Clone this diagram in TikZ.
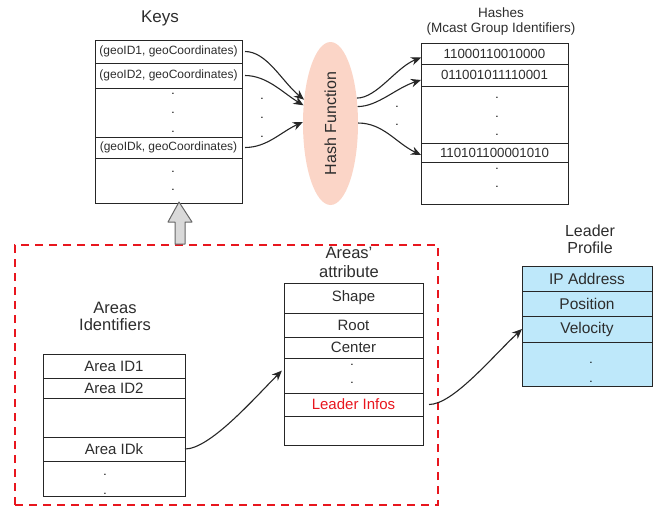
\documentclass[tikz,border=0pt]{standalone}
\usepackage{fontspec}
\setmainfont{Liberation Sans}
\usetikzlibrary{arrows.meta,shapes.geometric}
\definecolor{peach}{RGB}{251,213,199}
\definecolor{lblue}{RGB}{190,232,250}
\definecolor{dred}{RGB}{232,22,30}
\definecolor{txt}{RGB}{45,45,45}
\tikzset{
  row/.style={draw=black!85, line width=1pt, minimum width=#1, anchor=north west, inner sep=0pt, outer sep=0pt, text=txt},
  fa/.style={font=\fontsize{12}{14}\selectfont},
  fb/.style={font=\fontsize{13.3}{15}\selectfont},
  fc/.style={font=\fontsize{15}{17}\selectfont},
  fd/.style={font=\fontsize{15.5}{17}\selectfont},
  ttl/.style={align=center, text=txt, inner sep=0pt},
  dotn/.style={inner sep=0pt, font=\fontsize{12}{14}\selectfont},
  arr/.style={draw=black!85, line width=1.1pt, -{Stealth[length=10pt,width=8.5pt]}},
}
\begin{document}
\begin{tikzpicture}[x=1pt,y=-1pt]
\useasboundingbox (0,0) rectangle (653,507);
% Keys
\node[ttl, font=\fontsize{17}{19}\selectfont] (keyst) at (160,18) {Keys};
\node[row=147, minimum height=23, fa] (k1) at (95,40) {(geoID1, geoCoordinates)};
\node[row=147, minimum height=25, fa] (k2) at (95,63) {(geoID2, geoCoordinates)};
\node[row=147, minimum height=49] (kd) at (95,88) {};
\node[row=147, minimum height=21, fa] (kk) at (95,137) {(geoIDk, geoCoordinates)};
\node[row=147, minimum height=45] (ke) at (95,158) {};
\foreach \y in {94,113,132,172,190} \node[dotn] at (173,\y) {.};
\foreach \y in {99,118,137} \node[dotn] at (262,\y) {.};
% Hash function
\node[ellipse, fill=peach, minimum width=55, minimum height=163, inner sep=0pt] (hash) at (330.5,123.5) {};
\node[rotate=90, text=txt, font=\fontsize{16}{18}\selectfont] (hasht) at (hash.center) {Hash Function};
% Hashes
\node[ttl, font=\fontsize{13.5}{15}\selectfont] (hasht2) at (501,22) {Hashes\\(Mcast Group Identifiers)};
\node[row=147, minimum height=21, fb] (h1) at (421,43) {11000110010000};
\node[row=147, minimum height=22, fb] (h2) at (421,64) {011001011110001};
\node[row=147, minimum height=57] (hd) at (421,86) {};
\node[row=147, minimum height=19, fb] (hk) at (421,143) {110101100001010};
\node[row=147, minimum height=42] (he) at (421,162) {};
\foreach \y in {98,117,135,169,187} \node[dotn] at (497,\y) {.};
\foreach \y in {107,125} \node[dotn] at (397,\y) {.};
% arrows keys -> hash
\draw[arr] ([xshift=3pt]k1.east) .. controls +(22,0) and +(-22,-18) .. (hash.138);
\draw[arr] ([xshift=3pt]k2.east) .. controls +(22,0) and +(-20,-12) .. (hash.146);
\draw[arr] ([xshift=3pt]kk.east) .. controls +(22,0) and +(-22,10) .. (hash.177);
% arrows hash -> hashes
\draw[arr] (hash.44) .. controls +(20,0) and +(-25,10) .. ([yshift=-4pt]h1.west);
\draw[arr] (hash.32) .. controls +(20,0) and +(-25,8) .. ([yshift=-5pt]h2.west);
\draw[arr] (hash.1) .. controls +(25,0) and +(-25,-12) .. ([yshift=-2.5pt]hk.west);
% dashed region
\node[draw=dred, line width=2.5pt, dash pattern=on 8pt off 6pt, minimum width=423, minimum height=260, inner sep=0pt] (region) at (226.5,375) {};
% gray hollow arrow
\draw[draw=black!60, fill=black!15, line width=1pt, line join=round]
  (179,202) -- (192,222) -- (185,222) -- (185,244) -- (175,244) -- (175,222) -- (168,222) -- cycle;
% Areas identifiers
\node[ttl, font=\fontsize{16.5}{17}\selectfont] (areast) at (115,316.5) {Areas\\Identifiers};
\node[row=142, minimum height=24, fc] (a1) at (43,354) {Area ID1};
\node[row=142, minimum height=20, fc] (a2) at (43,378) {Area ID2};
\node[row=142, minimum height=39] (ad) at (43,398) {};
\node[row=142, minimum height=24, fc] (ak) at (43,437) {Area IDk};
\node[row=142, minimum height=35] (ae) at (43,461) {};
\foreach \y in {475,494} \node[dotn] at (105,\y) {.};
% Areas' attribute
\node[ttl, font=\fontsize{16.5}{19}\selectfont] (attrt) at (349,262.5) {Areas'\\attribute};
\node[row=139, minimum height=30, fc] (s1) at (284,283) {Shape};
\node[row=139, minimum height=24, fc] (s2) at (284,313) {Root};
\node[row=139, minimum height=21, fc] (s3) at (284,337) {Center};
\node[row=139, minimum height=35] (sd) at (284,358) {};
\node[row=139, minimum height=23, fc, text=dred] (sl) at (284,393) {Leader Infos};
\node[row=139, minimum height=29] (se) at (284,416) {};
\foreach \y in {365,383} \node[dotn] at (352,\y) {.};
% Leader profile
\node[ttl, font=\fontsize{16}{17}\selectfont] (leadt) at (590,239.5) {Leader\\Profile};
\node[row=130, minimum height=25, fd, fill=lblue] (p1) at (522,266) {IP Address};
\node[row=130, minimum height=25, fd, fill=lblue] (p2) at (522,291) {Position};
\node[row=130, minimum height=26, fd, fill=lblue] (p3) at (522,316) {Velocity};
\node[row=130, minimum height=44, fill=lblue] (pd) at (522,342) {};
\foreach \y in {363,382} \node[dotn] at (591,\y) {.};
% connectors lower
\draw[arr, shorten >=3pt] (ak.east) .. controls +(25,0) and +(-30,30) .. ([yshift=7pt]sd.west);
\draw[arr, shorten <=6pt] (sl.east) .. controls +(30,0) and +(-30,28) .. (p3.west);
\end{tikzpicture}
\end{document}
